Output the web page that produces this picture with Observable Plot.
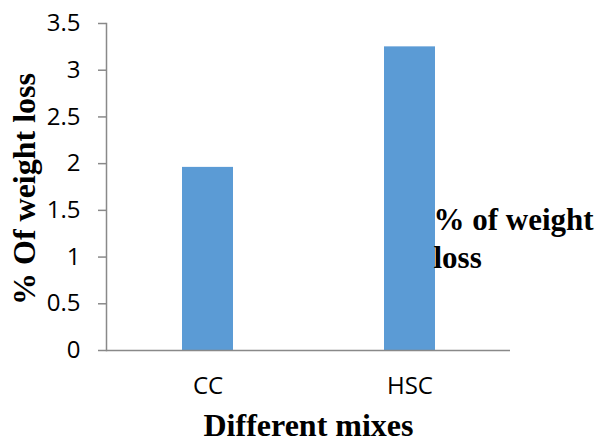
<!DOCTYPE html>
<html>
<head>
<meta charset="utf-8">
<script src="https://cdn.jsdelivr.net/npm/d3@7"></script>
<script src="https://cdn.jsdelivr.net/npm/@observablehq/plot@0.6"></script>
<style>
  html, body { margin: 0; padding: 0; background: #ffffff; }
  #chart svg { display: block; }
</style>
</head>
<body>
<div id="chart"></div>
<script>
const categories = ["CC", "HSC"];
const values = [1.96, 3.25];
const yTicks = [0, 0.5, 1, 1.5, 2, 2.5, 3, 3.5];
const yTitle = "% Of weight loss";
const xTitle = "Different mixes";
const legendLabel = "% of weight\nloss";

const data = categories.map((c, i) => ({category: c, value: values[i]}));

const serif = "'Liberation Serif', 'Times New Roman', serif";
const sans = "'Open Sans', 'Noto Sans', sans-serif";
const axisGray = "#898989";
const tickFont = 24;

const chart = Plot.plot({
  width: 599,
  height: 440,
  marginLeft: 106,
  marginRight: 89,
  marginTop: 23,
  marginBottom: 90,
  style: {background: "#ffffff", fontFamily: sans},
  x: {domain: categories, paddingInner: 0.75, paddingOuter: 0.375, label: null, axis: null},
  y: {domain: [0, 3.5], ticks: yTicks, label: null},
  marks: [
    Plot.barY(data, {x: "category", y: "value", fill: "#5B9BD5"}),
    Plot.frame({anchor: "left", stroke: axisGray, strokeWidth: 1.5}),
    Plot.ruleY([0], {stroke: axisGray, strokeWidth: 1.5}),
    Plot.axisY({ticks: yTicks, tickSize: 8, stroke: axisGray, strokeWidth: 1.5, tickFormat: () => "", label: null}),
    Plot.text(yTicks, {y: d => d, text: d => String(d), frameAnchor: "left", textAnchor: "end", dx: -26, fontSize: tickFont, fontFamily: sans, fill: "#000"}),
    Plot.text(categories, {x: d => d, text: d => d, frameAnchor: "bottom", lineAnchor: "top", dy: 26, fontSize: tickFont, fontFamily: sans, fill: "#000"}),
    Plot.text([yTitle], {frameAnchor: "left", textAnchor: "middle", rotate: -90, dx: -82, dy: 2, lineAnchor: "middle", fontSize: 32, fontWeight: "bold", fontFamily: serif, fill: "#000"}),
    Plot.text([xTitle], {frameAnchor: "bottom", dy: 75, lineAnchor: "middle", fontSize: 32, fontWeight: "bold", fontFamily: serif, fill: "#000"}),
    Plot.text([legendLabel], {frameAnchor: "right", textAnchor: "start", dx: -77, dy: 50, lineAnchor: "middle", lineHeight: 1.2, fontSize: 31, fontWeight: "bold", fontFamily: serif, fill: "#000"})
  ]
});

document.getElementById("chart").appendChild(chart);
</script>
</body>
</html>
